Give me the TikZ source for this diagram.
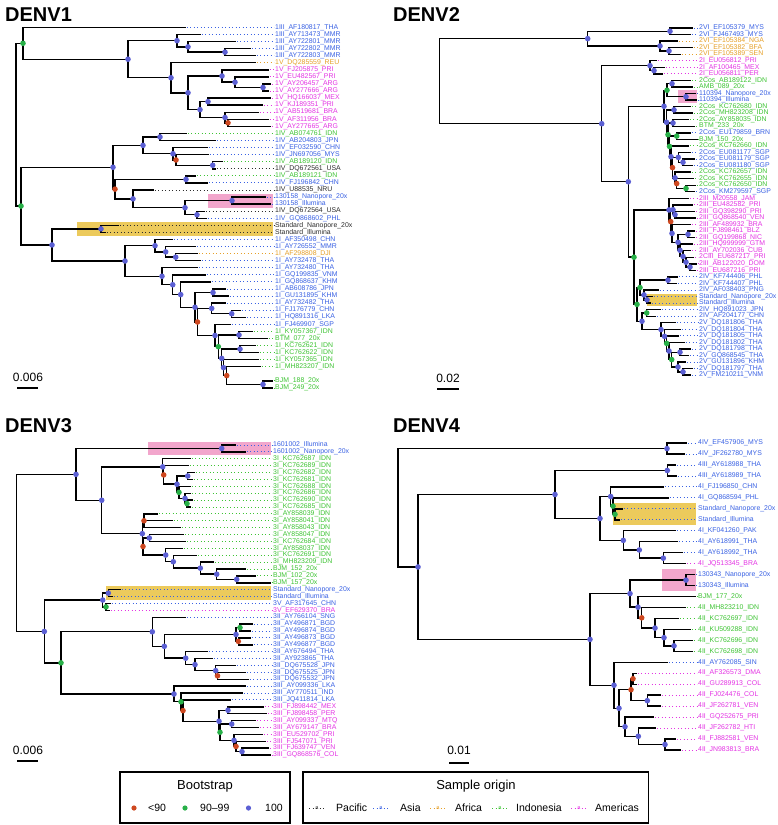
\documentclass[tikz,border=0pt]{standalone}
\usepackage{fontspec}
\setmainfont{Liberation Sans}
\definecolor{asia}{RGB}{58,98,228}
\definecolor{americas}{RGB}{228,52,228}
\definecolor{indonesia}{RGB}{62,196,52}
\definecolor{africa}{RGB}{230,160,40}
\definecolor{pacific}{RGB}{45,45,45}
\definecolor{bsred}{RGB}{206,72,32}
\definecolor{bsgreen}{RGB}{40,176,72}
\definecolor{bsblue}{RGB}{92,96,212}
\definecolor{hlyellow}{RGB}{236,202,92}
\definecolor{hlpink}{RGB}{242,166,204}
\tikzset{
 br/.style={line width=1.4pt, line cap=rect, draw=black},
 lead/.style={line width=0.9pt, dash pattern=on 0.9pt off 2.6pt},
 lab/.style={anchor=west, inner sep=0pt, font=\fontsize{6.9}{7}\selectfont},
 ttl/.style={anchor=base west, inner sep=0pt, font=\fontsize{20}{22}\selectfont\bfseries},
 scl/.style={inner sep=0pt, font=\fontsize{12}{13}\selectfont},
 legt/.style={anchor=west, inner sep=0pt, font=\fontsize{10.5}{12}\selectfont},
 legh/.style={inner sep=0pt, font=\fontsize{13}{14}\selectfont},
 legbox/.style={line width=1.6pt, draw=black},
}
\newcommand\tvv[3]{\draw[br] (#1,#2) -- (#1,#3);}
\newcommand\tee[3]{\draw[br] (#1,#3) -- (#2,#3);}
\newcommand\tlf[5]{\draw[br] (#1,#3) -- (#2,#3);\draw[lead,draw=#4] (#2+1.5,#3) -- (\LX-1,#3);\node[lab,text=#4] at (\LX,#3) {\detokenize{#5}};}
\newcommand\tbd[3]{\fill[#3] (#1,#2) circle[radius=2.8pt];}
\newcommand\keyg[3]{\draw[lead,draw=#2] (#1-8,#3) -- (#1+8,#3);\node[inner sep=0pt,font=\fontsize{5.5}{6}\selectfont,text=#2] at (#1,#3) {a};}
\begin{document}
\begin{tikzpicture}[x=1pt,y=-1pt]
\useasboundingbox (0,0) rectangle (778,825);
\fill[white] (0,0) rectangle (778,825);
% ================= DENV1 =================
\node[ttl] (t1) at (5,21) {DENV1};
\begin{scope}[yshift=-20.33pt,y=-7.07pt]
\def\LX{275}
\fill[hlpink] (208,24.5) rectangle (273,26.5);
\fill[hlyellow] (77,28.5) rectangle (273,30.5);
\tvv{16}{3.25}{26.27}
\tee{16}{23}{3.25} \tee{16}{21}{26.27}
\tvv{23}{1}{5.5}
\tlf{23}{185}{1}{asia}{1III_AF180817_THA}
\tee{23}{128}{5.5}
\tvv{128}{2.875}{8.125}
\tee{128}{177}{2.875} \tee{128}{171}{8.125}
\tvv{177}{2}{3.75}
\tlf{177}{200}{2}{asia}{1III_AY713473_MMR}
\tee{177}{188}{3.75}
\tvv{188}{3}{4.5}
\tlf{188}{235}{3}{asia}{1III_AY722801_MMR}
\tee{188}{225}{4.5}
\tvv{225}{4}{5}
\tlf{225}{250}{4}{asia}{1III_AY722802_MMR}
\tlf{225}{255}{5}{asia}{1III_AY722803_MMR}
\tvv{171}{6}{10.25}
\tlf{171}{255}{6}{africa}{1V_DQ285559_REU}
\tee{171}{188}{10.25}
\tvv{188}{7.875}{12.625}
\tee{188}{222}{7.875} \tee{188}{200}{12.625}
\tvv{222}{7}{8.75}
\tlf{222}{268}{7}{americas}{1V_FJ205875_PRI}
\tee{222}{235}{8.75}
\tvv{235}{8}{9.5}
\tlf{235}{268}{8}{americas}{1V_EU482567_PRI}
\tee{235}{263}{9.5}
\tvv{263}{9}{10}
\tlf{263}{270}{9}{americas}{1V_AY206457_ARG}
\tlf{263}{268}{10}{americas}{1V_AY277666_ARG}
\tvv{200}{11.5}{13.75}
\tee{200}{208}{11.5} \tee{200}{225}{13.75}
\tvv{208}{11}{12}
\tlf{208}{270}{11}{americas}{1V_HQ166037_MEX}
\tlf{208}{262}{12}{americas}{1V_KJ189351_PRI}
\tvv{225}{13}{14.5}
\tlf{225}{258}{13}{americas}{1V_AB519681_BRA}
\tee{225}{228}{14.5}
\tvv{228}{14}{15}
\tlf{228}{268}{14}{americas}{1V_AF311956_BRA}
\tlf{228}{270}{15}{americas}{1V_AY277665_ARG}
\tvv{21}{20.78}{31.77}
\tee{21}{113}{20.78} \tee{21}{52}{31.77}
\tvv{113}{17.6875}{23.875}
\tee{113}{143}{17.6875} \tee{113}{115}{23.875}
\tvv{143}{16.5}{18.875}
\tee{143}{160}{16.5} \tee{143}{173}{18.875}
\tvv{160}{16}{17}
\tlf{160}{186}{16}{indonesia}{1IV_AB074761_IDN}
\tlf{160}{215}{17}{asia}{1IV_AB204803_JPN}
\tvv{173}{18}{19.75}
\tlf{173}{207}{18}{asia}{1IV_EF032590_CHN}
\tee{173}{176}{19.75}
\tvv{176}{19}{20.5}
\tlf{176}{208}{19}{asia}{1IV_JN697056_MYS}
\tee{176}{212.7}{20.5}
\tvv{212.7}{20}{21}
\tlf{212.7}{222}{20}{indonesia}{1IV_AB189120_IDN}
\tlf{212.7}{215}{21}{pacific}{1IV_DQ672561_USA}
\tvv{115}{22.5}{25.25}
\tee{115}{186}{22.5} \tee{115}{133}{25.25}
\tvv{186}{22}{23}
\tlf{186}{195}{22}{indonesia}{1IV_AB189121_IDN}
\tlf{186}{207}{23}{asia}{1IV_FJ196842_CHN}
\tvv{133}{24}{26.5}
\tlf{133}{153}{24}{pacific}{1IV_U88535_NRU}
\tee{133}{185}{26.5}
\tvv{185}{25.5}{27.5}
\tee{185}{232}{25.5} \tee{185}{197}{27.5}
\tvv{232}{25}{26}
\tlf{232}{265}{25}{asia}{130158_Nanopore_20x}
\tlf{232}{270}{26}{asia}{130158_Illumina}
\tvv{197}{27}{28}
\tlf{197}{204}{27}{pacific}{1IV_DQ672564_USA}
\tlf{197}{206}{28}{asia}{1IV_GQ868602_PHL}
\tvv{52}{29.5}{34.04}
\tee{52}{101}{29.5} \tee{52}{125}{34.04}
\tvv{101}{29}{30}
\tlf{101}{118}{29}{pacific}{Standard_Nanopore_20x}
\tlf{101}{105}{30}{pacific}{Standard_Illumina}
\tvv{125}{31.875}{36.20}
\tee{125}{155}{31.875} \tee{125}{162}{36.20}
\tvv{155}{31}{32.75}
\tlf{155}{172}{31}{asia}{1I_AF350498_CHN}
\tee{155}{165.7}{32.75}
\tvv{165.7}{32}{33.5}
\tlf{165.7}{195}{32}{asia}{1I_AY726552_MMR}
\tee{165.7}{175.7}{33.5}
\tvv{175.7}{33}{34}
\tlf{175.7}{197}{33}{africa}{1I_AF298808_DJI}
\tlf{175.7}{200}{34}{asia}{1I_AY732478_THA}
\tvv{162}{35}{37.40}
\tlf{162}{197}{35}{asia}{1I_AY732480_THA}
\tee{162}{172.7}{37.40}
\tvv{172.7}{36}{38.79}
\tlf{172.7}{205}{36}{asia}{1I_GQ199835_VNM}
\tee{172.7}{180.7}{38.79}
\tvv{180.7}{37}{40.582}
\tlf{180.7}{210}{37}{asia}{1I_GQ868637_KHM}
\tee{180.7}{195}{40.582}
\tvv{195}{38.5}{42.664}
\tee{195}{213}{38.5} \tee{195}{197.5}{42.664}
\tvv{213}{38}{39}
\tlf{213}{225}{38}{asia}{1I_AB608786_JPN}
\tlf{213}{228}{39}{asia}{1I_GU131895_KHM}
\tvv{197.5}{40.75}{44.578}
\tee{197.5}{211.7}{40.75} \tee{197.5}{215}{44.578}
\tvv{211.7}{40}{41.5}
\tlf{211.7}{225}{40}{asia}{1I_AY732482_THA}
\tee{211.7}{231.7}{41.5}
\tvv{231.7}{41}{42}
\tlf{231.7}{240}{41}{asia}{1I_FJ176779_CHN}
\tlf{231.7}{245}{42}{asia}{1I_HQ891316_LKA}
\tvv{215}{43}{46.156}
\tlf{215}{230}{43}{asia}{1I_FJ469907_SGP}
\tee{215}{218.3}{46.156}
\tvv{218.3}{44.5}{47.8125}
\tee{218.3}{239}{44.5} \tee{218.3}{221.7}{47.8125}
\tvv{239}{44}{45}
\tlf{239}{252}{44}{indonesia}{1I_KY057367_IDN}
\tlf{239}{267}{45}{indonesia}{BTM_077_20x}
\tvv{221.7}{46.5}{49.125}
\tee{221.7}{240}{46.5} \tee{221.7}{223.5}{49.125}
\tvv{240}{46}{47}
\tlf{240}{255}{46}{indonesia}{1I_KC762621_IDN}
\tlf{240}{258}{47}{indonesia}{1I_KC762622_IDN}
\tvv{223.5}{48}{50.25}
\tlf{223.5}{258}{48}{indonesia}{1I_KY057365_IDN}
\tee{223.5}{226.7}{50.25}
\tvv{226.7}{49}{51.5}
\tlf{226.7}{260}{49}{indonesia}{1I_MH823207_IDN}
\tee{226.7}{263}{51.5}
\tvv{263}{51}{52}
\tlf{263}{272}{51}{indonesia}{BJM_188_20x}
\tlf{263}{272}{52}{indonesia}{BJM_249_20x}
% dots
\tbd{23}{3.25}{bsgreen} \tbd{21}{26.27}{bsgreen}
\tbd{176}{19.75}{bsred} \tbd{228}{14.5}{bsred} \tbd{197.5}{42.664}{bsred} \tbd{226.7}{50.25}{bsred} \tbd{115}{23.875}{bsred}
\tbd{218.3}{46.156}{bsgreen}
\foreach \px/\py in {128/5.5,177/2.875,188/3.75,225/4.5,171/8.125,188/10.25,222/7.875,235/8.75,263/9.5,200/12.625,208/11.5,225/13.75,
113/20.78,143/17.6875,160/16.5,173/18.875,212.7/20.5,186/22.5,133/25.25,185/26.5,232/25.5,197/27.5,
52/31.77,101/29.5,125/34.04,155/31.875,165.7/32.75,175.7/33.5,162/36.20,172.7/37.40,180.7/38.79,195/40.582,213/38.5,211.7/40.75,231.7/41.5,
215/44.578,239/44.5,221.7/47.8125,240/46.5,223.5/49.125,263/51.5}
  {\tbd{\px}{\py}{bsblue}}
\end{scope}
\node[scl] (s1) at (28,377) {0.006};
\draw[line width=1.2pt] (17,388) -- (38,388);
% ================= DENV2 =================
\node[ttl] (t2) at (393,21) {DENV2};
\begin{scope}[yshift=-21.45pt,y=-6.55pt]
\def\LX{699}
\fill[hlyellow] (646.7,41.55) rectangle (697,43.45);
\fill[hlpink] (678,10.5) rectangle (697,12.5);
\tvv{439.3}{2.625}{15.61}
\tee{439.3}{587.7}{2.625} \tee{439.3}{601.7}{15.61}
\tvv{587.7}{1.5}{3.75}
\tee{587.7}{670}{1.5} \tee{587.7}{660}{3.75}
\tvv{670}{1}{2}
\tlf{670}{692}{1}{asia}{2VI_EF105379_MYS}
\tlf{670}{690}{2}{asia}{2VI_FJ467493_MYS}
\tvv{660}{3}{4.5}
\tlf{660}{677}{3}{africa}{2VI_EF105384_NGA}
\tee{660}{669}{4.5}
\tvv{669}{4}{5}
\tlf{669}{692}{4}{africa}{2VI_EF105382_BFA}
\tlf{669}{680}{5}{africa}{2VI_EF105389_SEN}
\tvv{601.7}{6.75}{24.47}
\tee{601.7}{650}{6.75} \tee{601.7}{628.3}{24.47}
\tvv{650}{6}{7.5}
\tlf{650}{656}{6}{americas}{2I_EU056812_PRI}
\tee{650}{654}{7.5}
\tvv{654}{7}{8}
\tlf{654}{664}{7}{americas}{2I_AF100465_MEX}
\tlf{654}{662}{8}{americas}{2I_EU056811_PER}
\tvv{628.3}{12.95}{35.99}
\tee{628.3}{664}{12.95} \tee{628.3}{634}{35.99}
\tvv{664}{10.5}{15.39}
\tee{664}{667}{10.5} \tee{664}{666.5}{15.39}
\tvv{667}{9.5}{11.5}
\tee{667}{672}{9.5} \tee{667}{686}{11.5}
\tvv{672}{9}{10}
\tlf{672}{690}{9}{indonesia}{2Cos_AB189122_IDN}
\tlf{672}{692}{10}{indonesia}{AMB_089_20x}
\tvv{686}{11}{12}
\tlf{686}{695}{11}{asia}{110394_Nanopore_20x}
\tlf{686}{696}{12}{asia}{110394_Illumina}
\tvv{666.5}{13.5}{17.289}
\tee{666.5}{674}{13.5} \tee{666.5}{668}{17.289}
\tvv{674}{13}{14}
\tlf{674}{690}{13}{indonesia}{2Cos_KC762680_IDN}
\tlf{674}{692}{14}{indonesia}{2Cos_MH823208_IDN}
\tvv{668}{15.5}{19.078}
\tee{668}{673}{15.5} \tee{668}{669.5}{19.078}
\tvv{673}{15}{16}
\tlf{673}{688}{15}{indonesia}{2Cos_AY858035_IDN}
\tlf{673}{694}{16}{indonesia}{BTM_233_20x}
\tvv{669.5}{17.5}{20.656}
\tee{669.5}{676.7}{17.5} \tee{669.5}{671}{20.656}
\tvv{676.7}{17}{18}
\tlf{676.7}{690}{17}{asia}{2Cos_EU179859_BRN}
\tlf{676.7}{697}{18}{indonesia}{BJM_150_20x}
\tvv{671}{19}{22.3125}
\tlf{671}{688}{19}{indonesia}{2Cos_KC762660_IDN}
\tee{671}{672.5}{22.3125}
\tvv{672.5}{20.75}{23.875}
\tee{672.5}{678.3}{20.75} \tee{672.5}{675}{23.875}
\tvv{678.3}{20}{21.5}
\tlf{678.3}{690}{20}{asia}{2Cos_EU081177_SGP}
\tee{678.3}{683}{21.5}
\tvv{683}{21}{22}
\tlf{683}{694}{21}{asia}{2Cos_EU081179_SGP}
\tlf{683}{692}{22}{asia}{2Cos_EU081180_SGP}
\tvv{675}{23}{24.75}
\tlf{675}{690}{23}{indonesia}{2Cos_KC762657_IDN}
\tee{675}{676.7}{24.75}
\tvv{676.7}{24}{25.5}
\tlf{676.7}{693}{24}{indonesia}{2Cos_KC762655_IDN}
\tee{676.7}{686}{25.5}
\tvv{686}{25}{26}
\tlf{686}{695}{25}{indonesia}{2Cos_KC762650_IDN}
\tlf{686}{694}{26}{asia}{2Cos_KM279597_SGP}
\tvv{634}{28.78}{43.2}
\tee{634}{669}{28.78} \tee{634}{637}{43.2}
\tvv{669}{27}{30.555}
\tlf{669}{688}{27}{americas}{2III_M20558_JAM}
\tee{669}{670.7}{30.555}
\tvv{670.7}{28.75}{32.36}
\tee{670.7}{673}{28.75} \tee{670.7}{672}{32.36}
\tvv{673}{28}{29.5}
\tlf{673}{692}{28}{americas}{2III_EU482582_PRI}
\tee{673}{675}{29.5}
\tvv{675}{29}{30}
\tlf{675}{694}{29}{americas}{2III_GQ398290_PRI}
\tlf{675}{695}{30}{americas}{2III_GQ868540_VEN}
\tvv{672}{31}{33.72}
\tlf{672}{690}{31}{americas}{2III_AF489932_BRA}
\tee{672}{678}{33.72}
\tvv{678}{32.5}{34.9375}
\tee{678}{688}{32.5} \tee{678}{680}{34.9375}
\tvv{688}{32}{33}
\tlf{688}{694}{32}{americas}{2III_FJ898461_BLZ}
\tlf{688}{694}{33}{americas}{2III_GQ199868_NIC}
\tvv{680}{34}{35.875}
\tlf{680}{692}{34}{americas}{2III_HQ999999_GTM}
\tee{680}{683}{35.875}
\tvv{683}{35}{36.75}
\tlf{683}{690}{35}{americas}{2III_AY702036_CUB}
\tee{683}{686}{36.75}
\tvv{686}{36}{37.5}
\tlf{686}{693}{36}{americas}{2CIII_EU687217_PRI}
\tee{686}{690}{37.5}
\tvv{690}{37}{38}
\tlf{690}{696}{37}{americas}{2III_AB122020_DOM}
\tlf{690}{695}{38}{americas}{2III_EU687216_PRI}
\tvv{637}{40.625}{45.77}
\tee{637}{640}{40.625} \tee{637}{642}{45.77}
\tvv{640}{39.5}{41.75}
\tee{640}{668}{39.5} \tee{640}{644}{41.75}
\tvv{668}{39}{40}
\tlf{668}{677}{39}{asia}{2IV_KF744406_PHL}
\tlf{668}{676}{40}{asia}{2IV_KF744407_PHL}
\tvv{644}{41}{42.5}
\tlf{644}{658}{41}{asia}{2IV_AF038403_PNG}
\tee{644}{647}{42.5}
\tvv{647}{42}{43}
\tlf{647}{652}{42}{asia}{Standard_Nanopore_20x}
\tlf{647}{650}{43}{asia}{Standard_Illumina}
\tvv{642}{44.5}{47.039}
\tee{642}{646.7}{44.5} \tee{642}{661}{47.039}
\tvv{646.7}{44}{45}
\tlf{646.7}{660}{44}{asia}{2IV_HQ891023_JPN}
\tlf{646.7}{655}{45}{asia}{2IV_AF204177_CHN}
\tvv{661}{46}{48.078}
\tlf{661}{675}{46}{asia}{2V_DQ181806_THA}
\tee{661}{664.5}{48.078}
\tvv{664.5}{47}{49.156}
\tlf{664.5}{680}{47}{asia}{2V_DQ181804_THA}
\tee{664.5}{666.7}{49.156}
\tvv{666.7}{48}{50.3125}
\tlf{666.7}{678}{48}{asia}{2V_DQ181805_THA}
\tee{666.7}{669}{50.3125}
\tvv{669}{49}{51.625}
\tlf{669}{684}{49}{asia}{2V_DQ181802_THA}
\tee{669}{671.7}{51.625}
\tvv{671.7}{50.5}{52.75}
\tee{671.7}{680}{50.5} \tee{671.7}{678}{52.75}
\tvv{680}{50}{51}
\tlf{680}{690}{50}{asia}{2V_DQ181798_THA}
\tlf{680}{688}{51}{asia}{2V_GQ868545_THA}
\tvv{678}{52}{53.5}
\tlf{678}{685}{52}{asia}{2V_GU131896_KHM}
\tee{678}{683}{53.5}
\tvv{683}{53}{54}
\tlf{683}{692}{53}{asia}{2V_DQ181797_THA}
\tlf{683}{690}{54}{asia}{2V_FM210211_VNM}
% dots
\foreach \px/\py in {587.7/2.625,670/1.5,660/3.75,669/4.5,601.7/15.61,650/6.75,654/7.5,628.3/24.47,664/12.95,672/9.5,686/11.5,666.5/15.39,674/13.5,673/15.5,671/20.656,678.3/20.75,683/21.5,675/23.875,669/28.78,673/28.75,675/29.5,672/32.36,678/33.72,688/32.5,680/34.9375,683/35.875,686/36.75,690/37.5,668/39.5,644/41.75,647/42.5,642/45.77,661/47.039,664.5/48.078,669/50.3125,680/50.5,678/52.75,683/53.5}
  {\tbd{\px}{\py}{bsblue}}
\foreach \px/\py in {667/10.5,668/17.289,676.7/17.5,669.5/19.078,686/25.5,634/35.99,637/43.2,640/40.625,646.7/44.5,666.7/49.156,671.7/51.625}
  {\tbd{\px}{\py}{bsgreen}}
\foreach \px/\py in {672.5/22.3125,676.7/24.75,670.7/30.555}
  {\tbd{\px}{\py}{bsred}}
\end{scope}
\node[scl] (s2) at (448,378) {0.02};
\draw[line width=1.2pt] (437,389) -- (459,389);
% ================= DENV3 =================
\node[ttl] (t3) at (5,432) {DENV3};
\begin{scope}[yshift=-438.11pt,y=-6.89pt]
\def\LX{273}
\fill[hlpink] (148,0.5) rectangle (271,2.5);
\fill[hlyellow] (106,21.5) rectangle (271,23.5);
\tvv{16.7}{5.26}{28.06}
\tee{16.7}{76}{5.26} \tee{16.7}{44.3}{28.06}
\tvv{76}{1.5}{9.02}
\tee{76}{221.7}{1.5} \tee{76}{101.7}{9.02}
\tvv{221.7}{1}{2}
\tlf{221.7}{235}{1}{asia}{1601002_Illumina}
\tlf{221.7}{245}{2}{asia}{1601002_Nanopore_20x}
\tvv{101.7}{4.17}{13.87}
\tee{101.7}{162.7}{4.17} \tee{101.7}{142.3}{13.87}
\tvv{162.7}{3}{5.34}
\tlf{162.7}{190}{3}{indonesia}{3I_KC762687_IDN}
\tee{162.7}{163.7}{5.34}
\tvv{163.7}{4}{6.6875}
\tlf{163.7}{188}{4}{indonesia}{3I_KC762689_IDN}
\tee{163.7}{177}{6.6875}
\tvv{177}{5.5}{7.875}
\tee{177}{187.7}{5.5} \tee{177}{179}{7.875}
\tvv{187.7}{5}{6}
\tlf{187.7}{194}{5}{indonesia}{3I_KC762682_IDN}
\tlf{187.7}{192}{6}{indonesia}{3I_KC762681_IDN}
\tvv{179}{7}{8.75}
\tlf{179}{190}{7}{indonesia}{3I_KC762688_IDN}
\tee{179}{185}{8.75}
\tvv{185}{8}{9.5}
\tlf{185}{190}{8}{indonesia}{3I_KC762686_IDN}
\tee{185}{187}{9.5}
\tvv{187}{9}{10}
\tlf{187}{192}{9}{indonesia}{3I_KC762690_IDN}
\tlf{187}{190}{10}{indonesia}{3I_KC762685_IDN}
\tvv{142.3}{12}{15.73}
\tee{142.3}{144}{12} \tee{142.3}{143}{15.73}
\tvv{144}{11}{13}
\tlf{144}{157}{11}{indonesia}{3I_AY858039_IDN}
\tlf{144}{172}{12}{indonesia}{3I_AY858041_IDN}
\tlf{144}{180}{13}{indonesia}{3I_AY858043_IDN}
\tvv{143}{14.5}{16.97}
\tee{143}{149.3}{14.5} \tee{143}{165.7}{16.97}
\tvv{149.3}{14}{15}
\tlf{149.3}{183}{14}{indonesia}{3I_AY858047_IDN}
\tlf{149.3}{185}{15}{indonesia}{3I_KC762684_IDN}
\tvv{165.7}{16}{17.94}
\tlf{165.7}{182}{16}{indonesia}{3I_AY858037_IDN}
\tee{165.7}{173.3}{17.94}
\tvv{173.3}{17}{18.875}
\tlf{173.3}{196}{17}{indonesia}{3I_KC762691_IDN}
\tee{173.3}{200.3}{18.875}
\tvv{200.3}{18}{19.75}
\tlf{200.3}{213}{18}{indonesia}{3I_MH823209_IDN}
\tee{200.3}{216.7}{19.75}
\tvv{216.7}{19}{20.5}
\tlf{216.7}{245}{19}{indonesia}{BJM_152_20x}
\tee{216.7}{236.7}{20.5}
\tvv{236.7}{20}{21}
\tlf{236.7}{255}{20}{indonesia}{BJM_102_20x}
\tlf{236.7}{270}{21}{indonesia}{BJM_157_20x}
\tvv{44.3}{23.5}{32.62}
\tee{44.3}{102.7}{23.5} \tee{44.3}{61}{32.62}
\tvv{102.7}{22.5}{24.5}
\tee{102.7}{108.3}{22.5} \tee{102.7}{106}{24.5}
\tvv{108.3}{22}{23}
\tlf{108.3}{120}{22}{asia}{Standard_Nanopore_20x}
\tlf{108.3}{112}{23}{asia}{Standard_Illumina}
\tvv{106}{24}{25}
\tlf{106}{110}{24}{asia}{3V_AF317645_CHN}
\tlf{106}{109}{25}{americas}{3V_EF629370_BRA}
\tvv{61}{28.11}{37.14}
\tee{61}{152.3}{28.11} \tee{61}{174}{37.14}
\tvv{152.3}{26}{30.22}
\tlf{152.3}{185}{26}{asia}{3II_AY766104_SNG}
\tee{152.3}{164.3}{30.22}
\tvv{164.3}{28.5}{31.94}
\tee{164.3}{236}{28.5} \tee{164.3}{185.7}{31.94}
\tvv{236}{27.5}{29.5}
\tee{236}{240}{27.5} \tee{236}{238.3}{29.5}
\tvv{240}{27}{28}
\tlf{240}{252}{27}{asia}{3II_AY496871_BGD}
\tlf{240}{250}{28}{asia}{3II_AY496874_BGD}
\tvv{238.3}{29}{30}
\tlf{238.3}{250}{29}{asia}{3II_AY496873_BGD}
\tlf{238.3}{252}{30}{asia}{3II_AY496877_BGD}
\tvv{185.7}{31}{32.875}
\tlf{185.7}{207}{31}{asia}{3II_AY676494_THA}
\tee{185.7}{195}{32.875}
\tvv{195}{32}{33.75}
\tlf{195}{212}{32}{asia}{3II_AY923865_THA}
\tee{195}{215.7}{33.75}
\tvv{215.7}{33}{34.5}
\tlf{215.7}{235}{33}{asia}{3II_DQ675528_JPN}
\tee{215.7}{217.5}{34.5}
\tvv{217.5}{34}{35}
\tlf{217.5}{245}{34}{asia}{3II_DQ675525_JPN}
\tlf{217.5}{248}{35}{asia}{3II_DQ675532_JPN}
\tvv{174}{36}{38.27}
\tlf{174}{245}{36}{asia}{3III_AY099336_LKA}
\tee{174}{181}{38.27}
\tvv{181}{37}{39.55}
\tlf{181}{242}{37}{asia}{3III_AY770511_IND}
\tee{181}{183}{39.55}
\tvv{183}{38}{41.09}
\tlf{183}{230}{38}{asia}{3III_JQ411814_LKA}
\tee{183}{219}{41.09}
\tvv{219}{39.5}{42.69}
\tee{219}{228}{39.5} \tee{219}{220}{42.69}
\tvv{228}{39}{40}
\tlf{228}{263}{39}{americas}{3III_FJ898442_MEX}
\tlf{228}{266}{40}{americas}{3III_FJ898458_PER}
\tvv{220}{41.5}{43.875}
\tee{220}{231.7}{41.5} \tee{220}{234}{43.875}
\tvv{231.7}{41}{42}
\tlf{231.7}{255}{41}{americas}{3III_AY099337_MTQ}
\tlf{231.7}{258}{42}{americas}{3III_AY679147_BRA}
\tvv{234}{43}{44.75}
\tlf{234}{262}{43}{americas}{3III_EU529702_PRI}
\tee{234}{236}{44.75}
\tvv{236}{44}{45.5}
\tlf{236}{265}{44}{americas}{3III_FJ547071_PRI}
\tee{236}{242}{45.5}
\tvv{242}{45}{46}
\tlf{242}{268}{45}{americas}{3III_FJ639747_VEN}
\tlf{242}{270}{46}{americas}{3III_GQ868576_COL}
\foreach \px/\py in {76/5.26,221.7/1.5,101.7/9.02,162.7/4.17,177/6.6875,187.7/5.5,185/8.75,142.3/13.87,149.3/14.5,165.7/16.97,173.3/17.94,200.3/18.875,216.7/19.75,236.7/20.5,44.3/28.06,102.7/23.5,108.3/22.5,152.3/28.11,164.3/30.22,236/28.5,185.7/31.94,195/32.875,215.7/33.75,174/37.14,219/41.09,228/39.5,231.7/41.5,234/43.875,242/45.5}
  {\tbd{\px}{\py}{bsblue}}
\foreach \px/\py in {179/7.875,187/9.5,106/24.5,61/32.62,240/27.5,181/38.27,220/42.69}
  {\tbd{\px}{\py}{bsgreen}}
\foreach \px/\py in {163.7/5.34,144/12,143/15.73,238.3/29.5,217.5/34.5,183/39.55,236/44.75}
  {\tbd{\px}{\py}{bsred}}
\end{scope}
\node[scl] (s3) at (28,750) {0.006};
\draw[line width=1.2pt] (17,761) -- (38,761);
% ================= DENV4 =================
\node[ttl] (t4) at (393,432) {DENV4};
\begin{scope}[yshift=-432.14pt,y=-10.96pt]
\def\LX{698}
\fill[hlyellow] (613.3,6.45) rectangle (696,8.47);
\fill[hlpink] (661.7,12.45) rectangle (696,14.45);
\tvv{398}{1.5}{12.3}
\tee{398}{667}{1.5} \tee{398}{418}{12.3}
\tvv{667}{1}{2}
\tlf{667}{686}{1}{asia}{4IV_EF457906_MYS}
\tlf{667}{684}{2}{asia}{4IV_JF262780_MYS}
\tvv{418}{5.69}{18.91}
\tee{418}{555}{5.69} \tee{418}{590}{18.91}
\tvv{555}{3.5}{7.875}
\tee{555}{667.3}{3.5} \tee{555}{600}{7.875}
\tvv{667.3}{3}{4}
\tlf{667.3}{675}{3}{asia}{4III_AY618988_THA}
\tlf{667.3}{676}{4}{asia}{4III_AY618989_THA}
\tvv{600}{5.875}{9.875}
\tee{600}{610.7}{5.875} \tee{600}{623.3}{9.875}
\tvv{610.7}{5}{6.75}
\tlf{610.7}{663}{5}{asia}{4I_FJ196850_CHN}
\tee{610.7}{613}{6.75}
\tvv{613}{6}{7.5}
\tlf{613}{668}{6}{asia}{4I_GQ868594_PHL}
\tee{613}{615}{7.5}
\tvv{615}{7}{8}
\tlf{615}{622}{7}{asia}{Standard_Nanopore_20x}
\tlf{615}{619}{8}{asia}{Standard_Illumina}
\tvv{623.3}{9}{10.75}
\tlf{623.3}{675}{9}{asia}{4I_KF041260_PAK}
\tee{623.3}{639.3}{10.75}
\tvv{639.3}{10}{11.5}
\tlf{639.3}{677}{10}{asia}{4I_AY618991_THA}
\tee{639.3}{663.3}{11.5}
\tvv{663.3}{11}{12}
\tlf{663.3}{682}{11}{asia}{4I_AY618992_THA}
\tlf{663.3}{685}{12}{americas}{4I_JQ513345_BRA}
\tvv{590}{14.73}{23.09}
\tee{590}{630}{14.73} \tee{590}{614}{23.09}
\tvv{630}{13.5}{15.97}
\tee{630}{686}{13.5} \tee{630}{638}{15.97}
\tvv{686}{13}{14}
\tlf{686}{694}{13}{asia}{130343_Nanopore_20x}
\tlf{686}{694}{14}{asia}{130343_Illumina}
\tvv{638}{15}{16.94}
\tlf{638}{695}{15}{indonesia}{BJM_177_20x}
\tee{638}{641.7}{16.94}
\tvv{641.7}{16}{17.875}
\tlf{641.7}{685}{16}{indonesia}{4II_MH823210_IDN}
\tee{641.7}{655}{17.875}
\tvv{655}{17}{18.75}
\tlf{655}{678}{17}{indonesia}{4II_KC762697_IDN}
\tee{655}{664}{18.75}
\tvv{664}{18}{19.5}
\tlf{664}{690}{18}{indonesia}{4II_KU509288_IDN}
\tee{664}{674}{19.5}
\tvv{674}{19}{20}
\tlf{674}{692}{19}{indonesia}{4II_KC762696_IDN}
\tlf{674}{692}{20}{indonesia}{4II_KC762698_IDN}
\tvv{614}{21}{25.19}
\tlf{614}{667}{21}{asia}{4II_AY762085_SIN}
\tee{614}{619}{25.19}
\tvv{619}{23.5}{26.875}
\tee{619}{631}{23.5} \tee{619}{625}{26.875}
\tvv{631}{22.5}{24.5}
\tee{631}{633}{22.5} \tee{631}{647.3}{24.5}
\tvv{633}{22}{23}
\tlf{633}{636}{22}{americas}{4II_AF326573_DMA}
\tlf{633}{636}{23}{americas}{4II_GU289913_COL}
\tvv{647.3}{24}{25}
\tlf{647.3}{660}{24}{americas}{4II_FJ024476_COL}
\tlf{647.3}{660}{25}{americas}{4II_JF262781_VEN}
\tvv{625}{26}{27.75}
\tlf{625}{653}{26}{americas}{4II_GQ252675_PRI}
\tee{625}{638.3}{27.75}
\tvv{638.3}{27}{28.5}
\tlf{638.3}{655}{27}{americas}{4II_JF262782_HTI}
\tee{638.3}{665}{28.5}
\tvv{665}{28}{29}
\tlf{665}{675}{28}{americas}{4II_FJ882581_VEN}
\tlf{665}{680}{29}{americas}{4II_JN983813_BRA}
\foreach \px/\py in {667/1.5,667.3/3.5,610.7/5.875,623.3/9.875,639.3/10.75,663.3/11.5,686/13.5,630/14.73,638/15.97,655/17.875,664/18.75,674/19.5,614/23.09,619/25.19,647.3/24.5,625/26.875,638.3/27.75,665/28.5,555/5.69,600/7.875,418/12.3,590/18.91}
  {\tbd{\px}{\py}{bsblue}}
\foreach \px/\py in {613/6.75,615/7.5}
  {\tbd{\px}{\py}{bsgreen}}
\foreach \px/\py in {641.7/16.94,631/23.5,633/22.5}
  {\tbd{\px}{\py}{bsred}}
\end{scope}
\node[scl] (s4) at (459,750) {0.01};
\draw[line width=1.2pt] (449,763) -- (469,763);
% ================= Legend =================
\draw[legbox] (120,772) rectangle (290,823);
\node[legh] (bh) at (205,786) {Bootstrap};
\fill[bsred] (134,808) circle[radius=2.6pt];
\node[legt] (b1) at (148,808) {<90};
\fill[bsgreen] (185,808) circle[radius=2.6pt];
\node[legt] (b2) at (200,808) {90–99};
\fill[bsblue] (248.5,808) circle[radius=2.6pt];
\node[legt] (b3) at (265,808) {100};
\draw[legbox] (303,772) rectangle (648.5,823);
\node[legh] (sh) at (476,786) {Sample origin};
\keyg{317}{pacific}{808}
\node[legt] (o1) at (336,808) {Pacific};
\keyg{381}{asia}{808}
\node[legt] (o2) at (400,808) {Asia};
\keyg{438}{africa}{808}
\node[legt] (o3) at (455,808) {Africa};
\keyg{500}{indonesia}{808}
\node[legt] (o4) at (516,808) {Indonesia};
\keyg{579}{americas}{808}
\node[legt] (o5) at (595,808) {Americas};
\end{tikzpicture}
\end{document}
